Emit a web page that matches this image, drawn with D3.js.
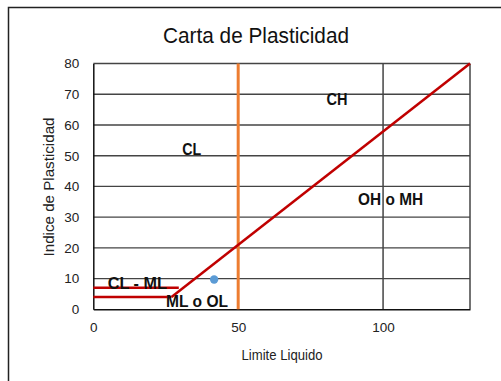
<!DOCTYPE html>
<html>
<head>
<meta charset="utf-8">
<script src="https://cdn.jsdelivr.net/npm/d3@7"></script>
<style>
body { margin: 0; background: #fff; }
svg text { font-family: "Liberation Sans Narrow", "Arial Narrow", "Liberation Sans", sans-serif; }
</style>
</head>
<body>
<svg id="svg" width="501" height="381"></svg>
<script>
// data
var yTicks = [0, 10, 20, 30, 40, 50, 60, 70, 80];
var xTicks = [0, 50, 100];
var aLine = [[27, 4], [130, 80]];
var clmlTop = [[0, 7], [29.5, 7]];
var clmlBottom = [[0, 4], [27, 4]];
var orangeLine = [[50, 0], [50, 80]];
var samples = [[41.7, 9.7]];
var zoneLabels = ["CL", "CH", "OH o MH", "CL - ML", "ML o OL"];
var zonePos = [[34, 52], [84.1, 68.5], [102.6, 35.9], [15.2, 8.7], [35.8, 2.7]];
var zoneWidth = [19, 21, 65, 59, 62];

var svg = d3.select("#svg");

// outer frame
svg.append("rect")
.attr("x", 8.5).attr("y", 7.5)
.attr("width", 600).attr("height", 500)
.attr("fill", "#fff")
.attr("stroke", "#222")
.attr("stroke-width", 1.5);

var pLeft = 93.3, pRight = 470, pTop = 63.5, pBottom = 309.3;

var x = d3.scaleLinear().domain([0, 130]).range([pLeft, pRight]);
var y = d3.scaleLinear().domain([0, 80]).range([pBottom, pTop]);

// title
svg.append("text")
.attr("x", 256).attr("y", 43)
.attr("text-anchor", "middle")
.attr("textLength", 186)
.attr("lengthAdjust", "spacingAndGlyphs")
.style("font-size", "22px")
.attr("fill", "#111")
.text("Carta de Plasticidad");

// gridlines
svg.append("g").selectAll("line")
.data(yTicks.slice(1))
.join("line")
.attr("x1", pLeft).attr("x2", pRight)
.attr("y1", function(d){ return y(d); })
.attr("y2", function(d){ return y(d); })
.attr("stroke", "#444")
.attr("stroke-width", 1.4);

svg.append("g").selectAll("line")
.data([100, 130])
.join("line")
.attr("x1", function(d){ return x(d); })
.attr("x2", function(d){ return x(d); })
.attr("y1", pTop).attr("y2", pBottom)
.attr("stroke", "#444")
.attr("stroke-width", 1.5);

// axes
var yAxis = d3.axisLeft(y).tickValues(yTicks).tickSize(0).tickPadding(14);
var gy = svg.append("g").attr("transform", "translate(" + pLeft + ",0)").call(yAxis);
gy.select(".domain").attr("stroke", "#111").attr("stroke-width", 1.5);
gy.selectAll("text").style("font-size", "13.5px").attr("fill", "#222");

var xAxis = d3.axisBottom(x).tickValues(xTicks).tickSize(0).tickPadding(13);
var gx = svg.append("g").attr("transform", "translate(0," + pBottom + ")").call(xAxis);
gx.select(".domain").attr("stroke", "#111").attr("stroke-width", 1.5);
gx.selectAll("text").style("font-size", "13.5px").attr("fill", "#222");

// axis titles
svg.append("text")
.attr("transform", "translate(54,187) rotate(-90)")
.attr("text-anchor", "middle")
.attr("textLength", 139)
.attr("lengthAdjust", "spacingAndGlyphs")
.style("font-size", "15px")
.attr("fill", "#222")
.text("Indice de Plasticidad");

svg.append("text")
.attr("x", 282).attr("y", 360)
.attr("text-anchor", "middle")
.attr("textLength", 81)
.attr("lengthAdjust", "spacingAndGlyphs")
.style("font-size", "15px")
.attr("fill", "#222")
.text("Limite Liquido");

var line = d3.line()
.x(function(d){ return x(d[0]); })
.y(function(d){ return y(d[1]); });

// orange LL = 50
svg.append("path")
.attr("d", line(orangeLine))
.attr("stroke", "#ED7D31")
.attr("stroke-width", 3)
.attr("fill", "none");

// red lines
[aLine, clmlTop, clmlBottom].forEach(function(l){
  svg.append("path")
  .attr("d", line(l))
  .attr("stroke", "#C00000")
  .attr("stroke-width", 2.5)
  .attr("fill", "none");
});

// zone labels
svg.append("g").selectAll("text")
.data(zoneLabels)
.join("text")
.attr("x", function(d, i){ return x(zonePos[i][0]); })
.attr("y", function(d, i){ return y(zonePos[i][1]); })
.attr("text-anchor", "middle")
.attr("dy", "0.36em")
.attr("textLength", function(d, i){ return zoneWidth[i]; })
.attr("lengthAdjust", "spacingAndGlyphs")
.style("font-size", "16.5px")
.style("font-weight", "bold")
.attr("fill", "#111")
.text(function(d){ return d; });

// sample point
svg.append("g").selectAll("circle")
.data(samples)
.join("circle")
.attr("cx", function(d){ return x(d[0]); })
.attr("cy", function(d){ return y(d[1]); })
.attr("r", 4.2)
.attr("fill", "#5B9BD5");
</script>
</body>
</html>
